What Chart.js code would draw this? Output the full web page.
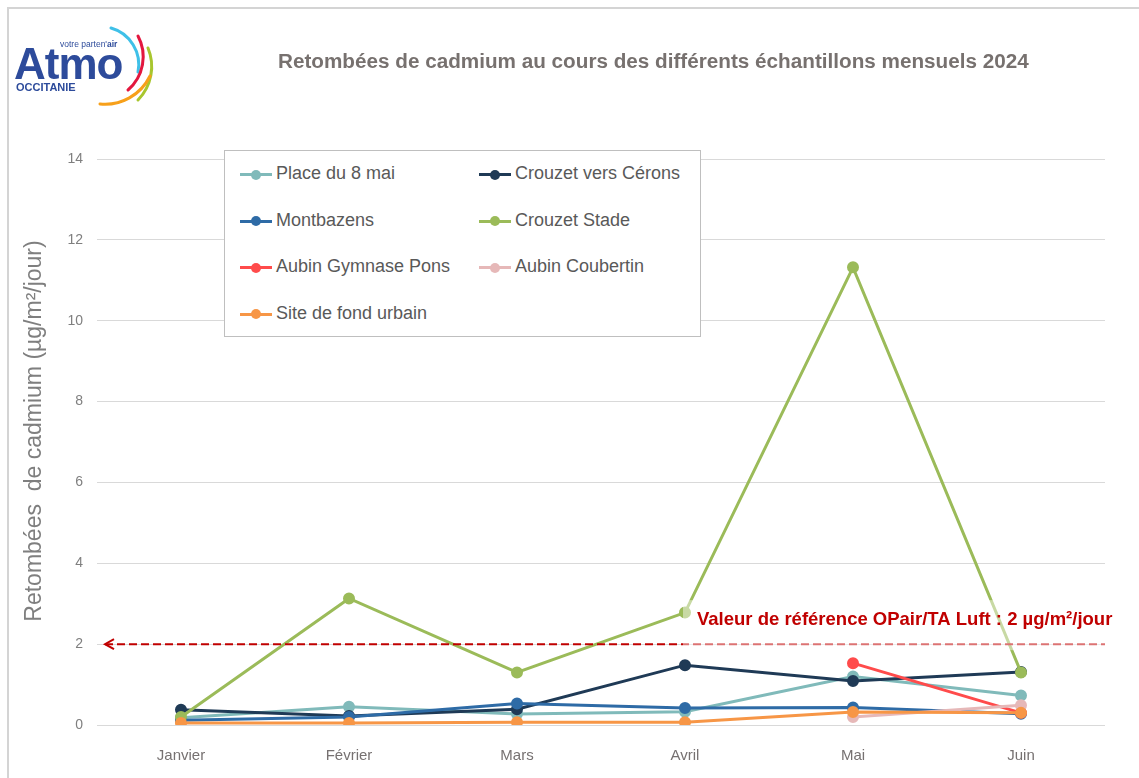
<!DOCTYPE html>
<html lang="fr">
<head>
<meta charset="UTF-8">
<title>Retombées de cadmium 2024</title>
<script src="https://cdn.jsdelivr.net/npm/chart.js"></script>
<style>
  * { margin: 0; padding: 0; box-sizing: border-box; }
  body { width: 1139px; height: 778px; background: #fff; font-family: 'Liberation Sans', Arial, sans-serif; position: relative; overflow: hidden; }
  .frame { position: absolute; left: 7px; top: 7px; width: 1140px; height: 790px; border: 2px solid #d4d4d4; }
  #chart { position: absolute; left: 0; top: 0; }
  .title { position: absolute; left: 278px; top: 49px; font-size: 20.7px; font-weight: bold; color: #77716f; white-space: nowrap; }
  .logo { position: absolute; left: 10px; top: 20px; }
  .legend { position: absolute; left: 224px; top: 150px; width: 477px; height: 187px; border: 1px solid #bfbfbf; background: #fff; }
  .item { position: absolute; font-size: 18px; color: #595959; white-space: nowrap; }
  .item span.mk { position: absolute; left: 0; top: 10px; width: 32px; height: 3px; }
  .item span.mk::after { content: ''; position: absolute; left: 11px; top: -3.5px; width: 10px; height: 10px; border-radius: 50%; background: inherit; }
  .item span.tx { padding-left: 36px; }
</style>
</head>
<body>
<div class="frame"></div>
<canvas id="chart" width="1139" height="778"></canvas>
<div class="title">Retombées de cadmium au cours des différents échantillons mensuels 2024</div>
<svg class="logo" width="150" height="90" viewBox="0 0 150 90">
  <text x="4" y="59" font-family="Liberation Sans, Arial" font-weight="bold" font-size="44" fill="#2d4b9b" letter-spacing="-1">Atmo</text>
  <text x="50" y="27" font-family="Liberation Sans, Arial" font-size="8.5" fill="#2d4b9b">votre parten'<tspan font-weight="bold">air</tspan></text>
  <text x="6" y="71" font-family="Liberation Sans, Arial" font-weight="bold" font-size="11" fill="#2d4b9b">OCCITANIE</text>
  <path d="M101 8 A 38 38 0 0 1 128 52" fill="none" stroke="#3fc0e8" stroke-width="3" stroke-linecap="round"/>
  <path d="M128 16 A 44 44 0 0 1 118 70" fill="none" stroke="#e3173e" stroke-width="3" stroke-linecap="round"/>
  <path d="M138 28 A 48 48 0 0 1 128 80" fill="none" stroke="#a8c62e" stroke-width="3" stroke-linecap="round"/>
  <path d="M140 56 A 50 50 0 0 1 90 84" fill="none" stroke="#f7a01a" stroke-width="3" stroke-linecap="round"/>
</svg>
<div class="legend" id="legend"></div>
<script>
  const mois = ['Janvier', 'Février', 'Mars', 'Avril', 'Mai', 'Juin'];

  const place8mai = [0.18, 0.45, 0.27, 0.33, 1.2, 0.73];
  const crouzetCerons = [0.38, 0.22, 0.39, 1.48, 1.09, 1.31];
  const montbazens = [0.12, 0.2, 0.53, 0.42, 0.43, 0.28];
  const crouzetStade = [0.2, 3.13, 1.3, 2.78, 11.32, 1.3];
  const aubinPons = [null, null, null, null, 1.53, 0.3];
  const aubinCoubertin = [null, null, null, null, 0.2, 0.49];
  const fondUrbain = [0.05, 0.05, 0.07, 0.07, 0.32, 0.3];

  const valeurRef = 2;

  const series = [
    { label: 'Place du 8 mai', data: place8mai, color: '#80baba' },
    { label: 'Crouzet vers Cérons', data: crouzetCerons, color: '#1f3a56' },
    { label: 'Montbazens', data: montbazens, color: '#2e6ba6' },
    { label: 'Crouzet Stade', data: crouzetStade, color: '#9bbb59' },
    { label: 'Aubin Gymnase Pons', data: aubinPons, color: '#ff4b4b' },
    { label: 'Aubin Coubertin', data: aubinCoubertin, color: '#e6b8b8' },
    { label: 'Site de fond urbain', data: fondUrbain, color: '#f79646' }
  ];

  // légende en deux colonnes
  const legend = document.getElementById('legend');
  series.forEach((s, i) => {
    const d = document.createElement('div');
    d.className = 'item';
    d.style.left = (i % 2 === 0 ? 15 : 254) + 'px';
    d.style.top = (12 + Math.floor(i / 2) * 46.5) + 'px';
    d.innerHTML = '<span class="mk" style="background:' + s.color + '"></span><span class="tx">' + s.label + '</span>';
    legend.appendChild(d);
  });

  // titre de l'axe y (placé un peu au-dessus du centre, comme l'original)
  const yTitle = {
    id: 'yTitle',
    afterDraw(chart) {
      const ctx = chart.ctx;
      ctx.save();
      ctx.translate(35, 431);
      ctx.rotate(-Math.PI / 2);
      ctx.fillStyle = '#7f7f7f';
      ctx.font = '23px "Liberation Sans", Arial, sans-serif';
      ctx.textAlign = 'center';
      ctx.textBaseline = 'middle';
      ctx.fillText('Retombées  de cadmium (µg/m²/jour)', 0, 0);
      ctx.restore();
    }
  };

  const refLine = {
    id: 'refLine',
    afterDatasetsDraw(chart) {
      const { ctx, chartArea, scales } = chart;
      const y = scales.y.getPixelForValue(valeurRef);
      ctx.save();
      ctx.strokeStyle = '#c00000';
      ctx.lineWidth = 2;
      ctx.setLineDash([8, 4]);
      ctx.beginPath();
      ctx.moveTo(chartArea.left + 8, y);
      ctx.lineTo(chartArea.right, y);
      ctx.stroke();
      ctx.setLineDash([]);
      ctx.beginPath();
      ctx.moveTo(chartArea.left + 17, y - 5);
      ctx.lineTo(chartArea.left + 8, y);
      ctx.lineTo(chartArea.left + 17, y + 5);
      ctx.stroke();
      // cadre du libellé, blanc semi-transparent
      ctx.fillStyle = 'rgba(255,255,255,0.45)';
      ctx.fillRect(683, y - 44, 436, 50);
      ctx.fillStyle = '#c00000';
      ctx.font = 'bold 18.5px "Liberation Sans", Arial, sans-serif';
      ctx.textBaseline = 'alphabetic';
      ctx.fillText('Valeur de référence OPair/TA Luft : 2 µg/m²/jour', 697, y - 19);
      ctx.restore();
    }
  };

  new Chart(document.getElementById('chart'), {
    type: 'line',
    data: {
      labels: mois,
      datasets: series.map((s, i) => ({
        label: s.label,
        data: s.data,
        borderColor: s.color,
        backgroundColor: s.color,
        borderWidth: 3,
        pointRadius: 4.5,
        pointHoverRadius: 4.5,
        tension: 0,
        spanGaps: false,
        order: series.length - i
      }))
    },
    options: {
      responsive: false,
      animation: false,
      layout: { padding: { left: 8, right: 34, top: 159, bottom: 0 } },
      plugins: { legend: { display: false }, tooltip: { enabled: false } },
      scales: {
        x: {
          offset: true,
          grid: { display: false },
          border: { display: false },
          ticks: { color: '#767171', font: { size: 15, family: 'Liberation Sans' }, padding: 14 },
          afterFit(scale) { scale.height = 53; }
        },
        y: {
          min: 0,
          max: 14,
          ticks: { stepSize: 2, color: '#7f7f7f', font: { size: 14, family: 'Liberation Sans' }, padding: 14 },
          grid: { color: '#d9d9d9', tickLength: 0, lineWidth: 1 },
          border: { display: false },
          afterFit(scale) { scale.width = 89; }
        }
      }
    },
    plugins: [refLine, yTitle]
  });
</script>
</body>
</html>
